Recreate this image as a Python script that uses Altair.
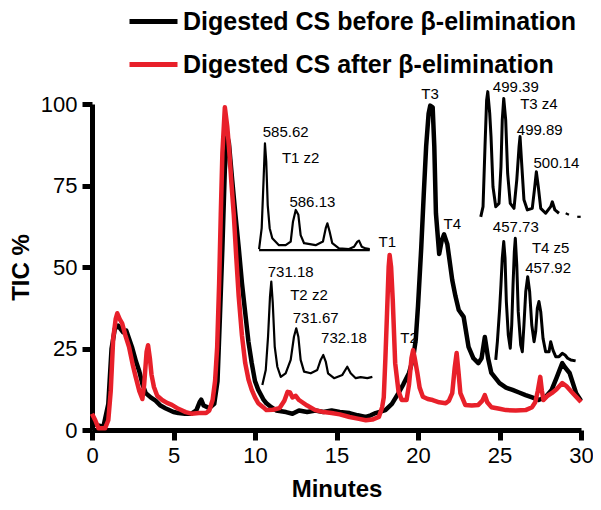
import altair as alt
import pandas as pd

# ---------------- main chromatograms (minutes, TIC %) ----------------
before_t = [0.0, 0.3, 0.7, 1.0, 1.2, 1.4, 1.6, 1.9, 2.1, 2.45, 2.7, 2.9, 3.1, 3.3, 3.6, 3.9, 4.2, 4.5,
            5.0, 5.3, 5.7, 6.1, 6.4, 6.6, 6.7, 6.85, 7.2, 7.5, 7.7, 7.85, 8.0, 8.15, 8.3, 8.4, 8.6,
            8.8, 9.0, 9.2, 9.4, 9.6, 9.8, 10.0, 10.2, 10.5, 10.7, 11.0, 11.3, 11.9, 12.3, 12.7, 13.2,
            13.7, 14.2, 14.7, 15.2, 15.8, 16.3, 16.8, 17.1, 17.4, 18.0, 18.4, 18.8, 19.1, 19.45, 19.7,
            19.86, 20.0, 20.2, 20.35, 20.5, 20.65, 20.75, 20.9, 21.0, 21.1, 21.3, 21.45, 21.6, 21.8,
            22.1, 22.3, 22.5, 22.8, 23.1, 23.4, 23.7, 23.9, 24.1, 24.3, 24.5, 25.0, 25.4, 25.8, 26.2,
            26.6, 27.0, 27.4, 27.8, 28.2, 28.5, 28.85, 29.05, 29.3, 29.7, 30.0]
before_v = [3, 1.5, 1, 8, 25, 31, 32, 30, 30.5, 25.5, 21, 18, 14, 11.3, 10, 9, 7.5, 6.7,
            5.5, 5.2, 5, 5, 6, 8.5, 9.3, 7.5, 6.7, 8, 15, 35, 56, 80, 90, 88, 76.7,
            66, 56, 45, 36, 27, 20.5, 15, 12.3, 9.5, 8.2, 7, 6, 5.5, 5, 6, 5.5,
            6, 5.5, 6, 5.5, 5.2, 4.5, 4, 4.5, 5.2, 6.1, 8, 11.3, 14, 17.5, 22,
            27.6, 38, 56, 72, 87, 97, 99.5, 99, 87, 66.5, 54, 58, 60, 57,
            46, 41, 36.8, 34.7, 25.5, 22, 20.5, 22, 28.5, 22, 17.5, 14.4, 13, 12.3, 11.5,
            10.7, 10, 9.2, 10, 12.3, 16, 20.5, 19, 17.5, 11.3, 9]

after_t = [0.0, 0.2, 0.4, 0.8, 1.0, 1.15, 1.3, 1.45, 1.55, 1.7, 1.85, 2.05, 2.27, 2.5, 2.68, 2.9,
           3.09, 3.2, 3.35, 3.44, 3.55, 3.65, 3.8, 4.0, 4.3, 4.6, 4.9, 5.3, 5.75, 6.1, 6.56, 7.0,
           7.2, 7.4, 7.55, 7.68, 7.8, 7.9, 8.0, 8.15, 8.3, 8.4, 8.55, 8.7, 8.85, 9.0, 9.2, 9.4,
           9.6, 9.8, 10.0, 10.2, 10.5, 10.7, 11.1, 11.5, 11.8, 12.0, 12.15, 12.3, 12.5, 12.7, 13.2,
           13.7, 14.2, 14.7, 15.2, 15.8, 16.3, 16.8, 17.2, 17.6, 17.8, 17.9, 18.0, 18.1, 18.2,
           18.26, 18.35, 18.45, 18.6, 18.8, 19.0, 19.3, 19.45, 19.6, 19.7, 19.8, 19.96, 20.1,
           20.3, 20.6, 20.9, 21.3, 21.7, 21.9, 22.1, 22.25, 22.37, 22.48, 22.6, 22.9, 23.3, 23.7,
           23.95, 24.1, 24.25, 24.5, 25.0, 25.4, 26.0, 26.6, 27.0, 27.2, 27.35, 27.5, 27.6, 27.7,
           27.95, 28.2, 28.5, 28.85, 29.1, 29.5, 30.0]
after_v = [5, 3, 0.5, 0.5, 3, 12, 28, 34, 35.8, 34, 32.7, 29, 25.5, 20, 16.3, 12,
           9.5, 14, 24, 26, 22, 17, 13.2, 10.5, 9.2, 8.3, 7.7, 6.5, 5.5, 5, 5.2, 5.2,
           6, 9.2, 15, 25.5, 45, 66, 85, 99, 93, 87, 76, 66, 53, 41, 29, 20.5,
           15.5, 12.3, 10, 8.2, 7, 6.1, 6.2, 6.7, 9, 11.7, 11.5, 10, 10.5, 9.2, 7.5,
           6.1, 5.5, 5.2, 4.8, 4, 3.5, 3, 3.2, 4, 7, 10, 22, 35.8, 50,
           53.7, 50, 40, 20.5, 12, 9.2, 9.2, 14, 22, 24.5, 22, 17.5, 13,
           10.2, 9.5, 9.2, 8.5, 8.2, 9, 11.3, 19, 23.6, 18, 11.3, 7.7, 7.5, 7.7,
           9, 10.7, 8.5, 7, 6.5, 6.1, 6, 6.1, 7, 8.6, 12, 16.3, 12, 9.2,
           10.5, 11.3, 12.5, 14.4, 13.5, 11.3, 8.6]

series_names = ["Digested CS before β-elimination", "Digested CS after β-elimination"]
series_colors = ["#000000", "#e8202a"]

# ---------------- inset mass spectra, placed in the main axes' units ----------------
inset1_t = [10.25, 10.41, 10.53, 10.61, 10.69, 10.78, 10.90, 11.06, 11.47, 11.88, 12.19, 12.33,
            12.50, 12.66, 12.80, 13.01, 13.72, 14.17, 14.34, 14.44, 14.58, 14.74, 15.15, 15.77,
            16.07, 16.28, 16.38, 16.55, 16.79, 17.04]
inset1_v = [55.5, 61.9, 77.2, 87.9, 82.3, 69.0, 61.9, 58.8, 56.7, 56.7, 57.8, 63.9,
            67.5, 66.0, 59.8, 57.3, 56.7, 57.8, 61.9, 63.4, 60.8, 57.3, 55.7, 55.5,
            56.2, 57.8, 58.1, 56.2, 55.7, 55.5]
inset1_base_t = [10.25, 17.04]
inset1_base_v = [55.2, 55.2]

inset2_t = [10.45, 10.66, 10.80, 10.92, 11.00, 11.09, 11.21, 11.37, 11.58, 11.88, 12.19, 12.39,
            12.53, 12.66, 12.80, 13.01, 13.42, 13.82, 14.03, 14.19, 14.34, 14.48, 14.85, 15.36,
            15.66, 15.87, 16.18, 16.48, 16.89, 17.2]
inset2_v = [13.8, 18.4, 28.6, 40.9, 45.5, 38.9, 25.6, 19.4, 16.3, 17.4, 21.5, 28.6,
            31.2, 28.6, 21.5, 17.9, 17.4, 18.4, 21.5, 23.0, 21.0, 17.4, 15.9, 16.9,
            19.4, 17.4, 15.9, 16.2, 15.9, 16.3]

inset3_t = [23.85, 23.99, 24.11, 24.21, 24.28, 24.40, 24.48, 24.60, 24.77, 24.97, 25.09, 25.17,
            25.26, 25.38, 25.50, 25.66, 25.89, 26.06, 26.20, 26.26, 26.36, 26.50, 26.71, 27.01,
            27.14, 27.26, 27.38, 27.53, 27.83, 28.14, 28.24, 28.40, 28.65]
inset3_v = [65.4, 68.5, 86.9, 101.2, 103.8, 97.1, 90.0, 74.6, 68.5, 69.5, 80.8, 95.1,
            101.7, 95.1, 78.7, 69.5, 68.0, 76.7, 86.9, 90.0, 81.8, 70.6, 67.5, 68.0,
            73.6, 79.2, 74.6, 68.0, 66.5, 68.5, 70.0, 67.5, 66.5]
inset3_dash1_t = [29.06, 29.26]
inset3_dash1_v = [66.5, 66.0]
inset3_dash2_t = [29.77, 29.98]
inset3_dash2_v = [65.4, 65.4]

inset4_t = [24.77, 24.87, 25.01, 25.09, 25.17, 25.26, 25.34, 25.42, 25.54, 25.66, 25.75, 25.83,
            25.91, 25.97, 26.06, 26.15, 26.30, 26.40, 26.50, 26.61, 26.73, 26.85, 26.98, 27.12,
            27.22, 27.32, 27.42, 27.53, 27.67, 27.83, 28.04, 28.14, 28.28, 28.45, 28.65, 28.85,
            29.02, 29.18, 29.37, 29.67]
inset4_v = [21.5, 27.1, 37.3, 44.5, 52.7, 57.8, 52.7, 39.4, 29.1, 25.1, 32.2, 44.5,
            54.7, 58.8, 50.6, 36.3, 26.1, 24.0, 32.2, 42.4, 47.0, 42.4, 32.2, 27.1,
            30.2, 37.3, 39.4, 36.3, 28.1, 24.0, 24.0, 27.1, 24.5, 22.5, 22.5, 23.5,
            23.0, 22.0, 21.5, 21.2]

# ---------------- annotations ----------------
label_text = ["585.62", "T1 z2", "586.13",
              "731.18", "T2 z2", "731.67", "732.18",
              "499.39", "T3 z4", "499.89", "500.14",
              "457.73", "T4 z5", "457.92",
              "T1", "T2", "T3", "T4"]
label_t = [11.88, 12.8, 13.52,
           12.19, 13.31, 13.72, 15.46,
           26.0, 27.42, 27.47, 28.49,
           26.0, 28.14, 27.98,
           18.12, 19.45, 20.74, 22.1]
label_v = [91.5, 83.3, 69.8,
           48.5, 41.4, 34.3, 28.1,
           105.3, 100, 92, 82,
           62.3, 55.9, 49.8,
           57.6, 28.3, 103, 63.2]

x_ticks = [0, 5, 10, 15, 20, 25, 30]
y_ticks = [0, 25, 50, 75, 100]

# ---------------- build tables ----------------
df_before = pd.DataFrame({"t": before_t, "v": before_v, "series": series_names[0]})
df_after = pd.DataFrame({"t": after_t, "v": after_v, "series": series_names[1]})

inset_parts = [
    ("i1", inset1_t, inset1_v, 2.2), ("i1b", inset1_base_t, inset1_base_v, 2.2),
    ("i2", inset2_t, inset2_v, 2.2),
    ("i3", inset3_t, inset3_v, 3.0), ("i3d1", inset3_dash1_t, inset3_dash1_v, 2.2),
    ("i3d2", inset3_dash2_t, inset3_dash2_v, 2.2),
    ("i4", inset4_t, inset4_v, 3.0),
]
df_inset = pd.concat(
    [pd.DataFrame({"t": tt, "v": vv, "grp": g, "w": w}) for g, tt, vv, w in inset_parts],
    ignore_index=True)

df_labels = pd.DataFrame({"t": label_t, "v": label_v, "text": label_text})

FONT = "Liberation Sans"

x_enc = alt.X("t:Q", scale=alt.Scale(domain=[0, 30], nice=False),
              axis=alt.Axis(values=x_ticks, title="Minutes", grid=False,
                            domainWidth=5, domainColor="black", tickWidth=5, tickColor="black",
                            tickSize=10, labelFont=FONT, labelFontSize=22, labelColor="black",
                            labelPadding=5, titleFont=FONT, titleFontSize=24, titleFontWeight="bold",
                            titleColor="black", titlePadding=11, labelFlush=False))
y_enc = alt.Y("v:Q", scale=alt.Scale(domain=[0, 100], nice=False),
              axis=alt.Axis(values=y_ticks, title="TIC %", grid=False,
                            domainWidth=5, domainColor="black", tickWidth=5, tickColor="black",
                            tickSize=10, labelFont=FONT, labelFontSize=22, labelColor="black",
                            labelPadding=5, titleFont=FONT, titleFontSize=24, titleFontWeight="bold",
                            titleColor="black", titlePadding=7, labelFlush=False))

color_enc = alt.Color("series:N",
                      scale=alt.Scale(domain=series_names, range=series_colors),
                      legend=alt.Legend(title=None, orient="none", legendX=35, legendY=-109,
                                        symbolType="stroke", symbolSize=2304, symbolStrokeWidth=5,
                                        labelFont=FONT, labelFontSize=25, labelFontWeight="bold",
                                        labelColor="black", labelLimit=800, labelOffset=3,
                                        rowPadding=3, padding=0, direction="vertical"))

black_line = alt.Chart(df_before).mark_line(strokeWidth=4.5, strokeJoin="round", clip=False).encode(
    x=x_enc, y=y_enc, color=color_enc)
red_line = alt.Chart(df_after).mark_line(strokeWidth=4.5, strokeJoin="round", clip=False).encode(
    x="t:Q", y="v:Q", color="series:N")

insets = alt.Chart(df_inset).mark_line(color="black", strokeJoin="round").encode(
    x="t:Q", y="v:Q", detail="grp:N", strokeWidth=alt.StrokeWidth("w:Q", scale=None))

labels = alt.Chart(df_labels).mark_text(font=FONT, fontSize=15, color="black",
                                        align="center", baseline="middle").encode(
    x="t:Q", y="v:Q", text="text:N")

chart = alt.layer(black_line, red_line, insets, labels).properties(
    width=489, height=326,
    autosize=alt.AutoSizeParams(type="none"),
    padding={"left": 84, "top": 96, "right": 12, "bottom": 72},
).configure_view(stroke=None)

chart.save("out.html", embed_options={"renderer": "svg", "actions": False})
